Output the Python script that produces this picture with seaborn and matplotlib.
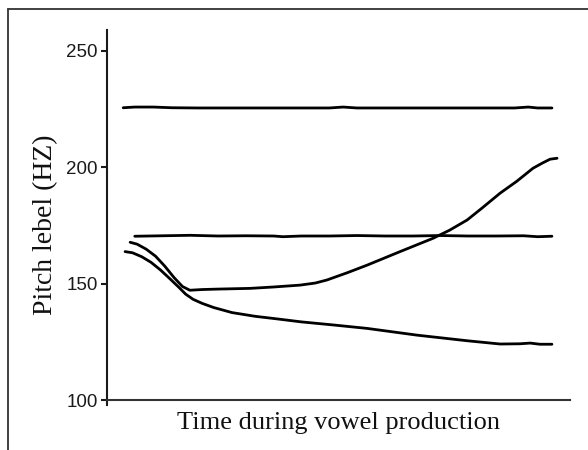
import numpy as np
import pandas as pd
import matplotlib
matplotlib.use("Agg")
import matplotlib.pyplot as plt
from matplotlib.lines import Line2D
import seaborn as sns

# Time (normalised 0-100) and pitch values (Hz) for each contour
top_t = [3.5, 6, 10, 14, 20, 30, 40, 48, 51, 54, 60, 70, 80, 88, 91, 93, 96.1]
top_hz = [225.6, 225.9, 225.9, 225.6, 225.5, 225.5, 225.5, 225.5, 225.9, 225.5, 225.5, 225.5, 225.5, 225.5, 225.9, 225.5, 225.5]

mid_t = [6, 12, 18, 24, 30, 36, 38, 42, 48, 54, 60, 66, 72, 78, 84, 90, 93, 96.1]
mid_hz = [170.4, 170.6, 170.8, 170.5, 170.6, 170.5, 170.2, 170.5, 170.5, 170.7, 170.5, 170.5, 170.7, 170.5, 170.5, 170.6, 170.2, 170.4]

rise_t = [5.0, 6.5, 8.5, 10.5, 12.5, 14.5, 16.3, 17.9, 20.5, 24, 30.9, 36, 41.7, 45, 47.5, 52, 56.2, 63.3, 70.4, 74, 77.8, 81, 84.9, 88.5, 92.0, 94, 95.7, 97.2]
rise_hz = [167.8, 167.0, 164.8, 161.8, 157.5, 152.6, 148.8, 147.2, 147.5, 147.7, 148.0, 148.6, 149.4, 150.3, 151.6, 154.8, 158.0, 163.8, 169.5, 173.0, 177.4, 182.5, 188.9, 194.0, 199.6, 201.8, 203.5, 203.9]

fall_t = [3.9, 5.5, 7.5, 9.5, 11.5, 13.5, 15.5, 17.0, 18.6, 20.5, 23.0, 27.0, 32.0, 36.7, 42.0, 48.8, 56.2, 67.0, 77.8, 84.9, 89.2, 91.4, 93.5, 96.1]
fall_hz = [163.8, 163.3, 161.6, 159.2, 156.0, 152.3, 148.5, 145.5, 143.3, 141.6, 139.8, 137.6, 136.0, 134.9, 133.6, 132.3, 130.8, 127.9, 125.5, 124.1, 124.2, 124.5, 124.0, 124.0]

y_ticks = [100, 150, 200, 250]

sns.set_style("white")
plt.rcParams["font.family"] = ["Liberation Sans", "DejaVu Sans"]

fig = plt.figure(figsize=(5.88, 4.5), dpi=100)
ax = fig.add_axes([107/588, 1-405/450, (570-107)/588, (405-30)/450])

for t, hz in [(top_t, top_hz), (mid_t, mid_hz), (rise_t, rise_hz), (fall_t, fall_hz)]:
    df = pd.DataFrame({"t": t, "hz": hz})
    sns.lineplot(data=df, x="t", y="hz", ax=ax, color="black", linewidth=2.0, sort=False)

ax.set_xlim(0, 100)
ax.set_ylim(97.9, 259)
ax.set_yticks(y_ticks)
ax.set_yticklabels([str(v) for v in y_ticks], fontsize=13.5, color="#1a1a1a")
ax.set_xticks([])
ax.tick_params(axis="y", direction="out", length=4.5, width=1.5, pad=2, left=True, colors="#1a1a1a")

for s in ["top", "right"]:
    ax.spines[s].set_visible(False)
ax.spines["left"].set_linewidth(1.5)
ax.spines["left"].set_color("#1a1a1a")
ax.spines["bottom"].set_linewidth(1.5)
ax.spines["bottom"].set_color("#333333")
ax.spines["bottom"].set_position(("data", 100))

ax.set_xlabel("Time during vowel production", family=["Liberation Serif", "DejaVu Serif"], fontsize=19, color="#111111")
ax.xaxis.set_label_coords(0.5, -0.02)
ax.set_ylabel("Pitch lebel (HZ)", family=["Liberation Serif", "DejaVu Serif"], fontsize=20, color="#111111")
ax.yaxis.set_label_coords(-0.106, 0.48)

# outer frame (top and left only visible in crop)
fig.add_artist(Line2D([8/588, 8/588], [0, 1-9/450], transform=fig.transFigure, color="#333333", linewidth=1.3))
fig.add_artist(Line2D([8/588, 1], [1-9/450, 1-9/450], transform=fig.transFigure, color="#333333", linewidth=1.3))

fig.savefig("out.png", dpi=100)
